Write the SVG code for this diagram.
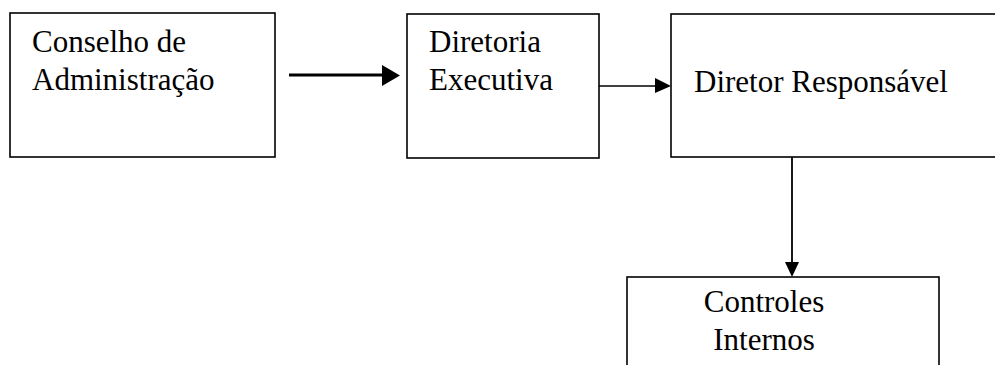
<svg xmlns="http://www.w3.org/2000/svg" width="995" height="365" viewBox="0 0 995 365">
<style>
.box{fill:#fff;stroke:#000;stroke-width:1.6}
.t{font-size:31px;fill:#000}
.ln{stroke:#000;fill:none}
.hd{fill:#000;stroke:none}
</style>
<rect width="995" height="365" fill="#fff"/>
<g id="n1" font-family="'Liberation Serif', 'DejaVu Serif', serif">
<rect class="box" x="10" y="13" width="265" height="144"/>
<text class="t" x="32" y="52">Conselho de</text>
<text class="t" x="32" y="90">Administração</text>
</g>
<g id="n2" font-family="'Liberation Serif', 'DejaVu Serif', serif">
<rect class="box" x="407" y="14" width="192" height="144"/>
<text class="t" x="429" y="52">Diretoria</text>
<text class="t" x="429" y="90">Executiva</text>
</g>
<g id="n3" font-family="'Liberation Serif', 'DejaVu Serif', serif">
<rect class="box" x="671" y="14" width="340" height="143"/>
<text class="t" x="694" y="92">Diretor Responsável</text>
</g>
<g id="n4" font-family="'Liberation Serif', 'DejaVu Serif', serif">
<rect class="box" x="627" y="277" width="312" height="110"/>
<text class="t" x="764" y="312" text-anchor="middle">Controles</text>
<text class="t" x="764" y="350" text-anchor="middle">Internos</text>
</g>
<g id="connectors">
<line class="ln" x1="289" y1="75" x2="383" y2="75" stroke-width="3"/>
<polygon class="hd" points="382,65 400,75.5 382,86"/>
<line class="ln" x1="599" y1="86" x2="656" y2="86" stroke-width="1.6"/>
<polygon class="hd" points="655,78 671,86 655,93"/>
<line class="ln" x1="792" y1="157" x2="792" y2="263" stroke-width="1.8"/>
<polygon class="hd" points="785,262 799,262 792,277"/>
</g>
</svg>
